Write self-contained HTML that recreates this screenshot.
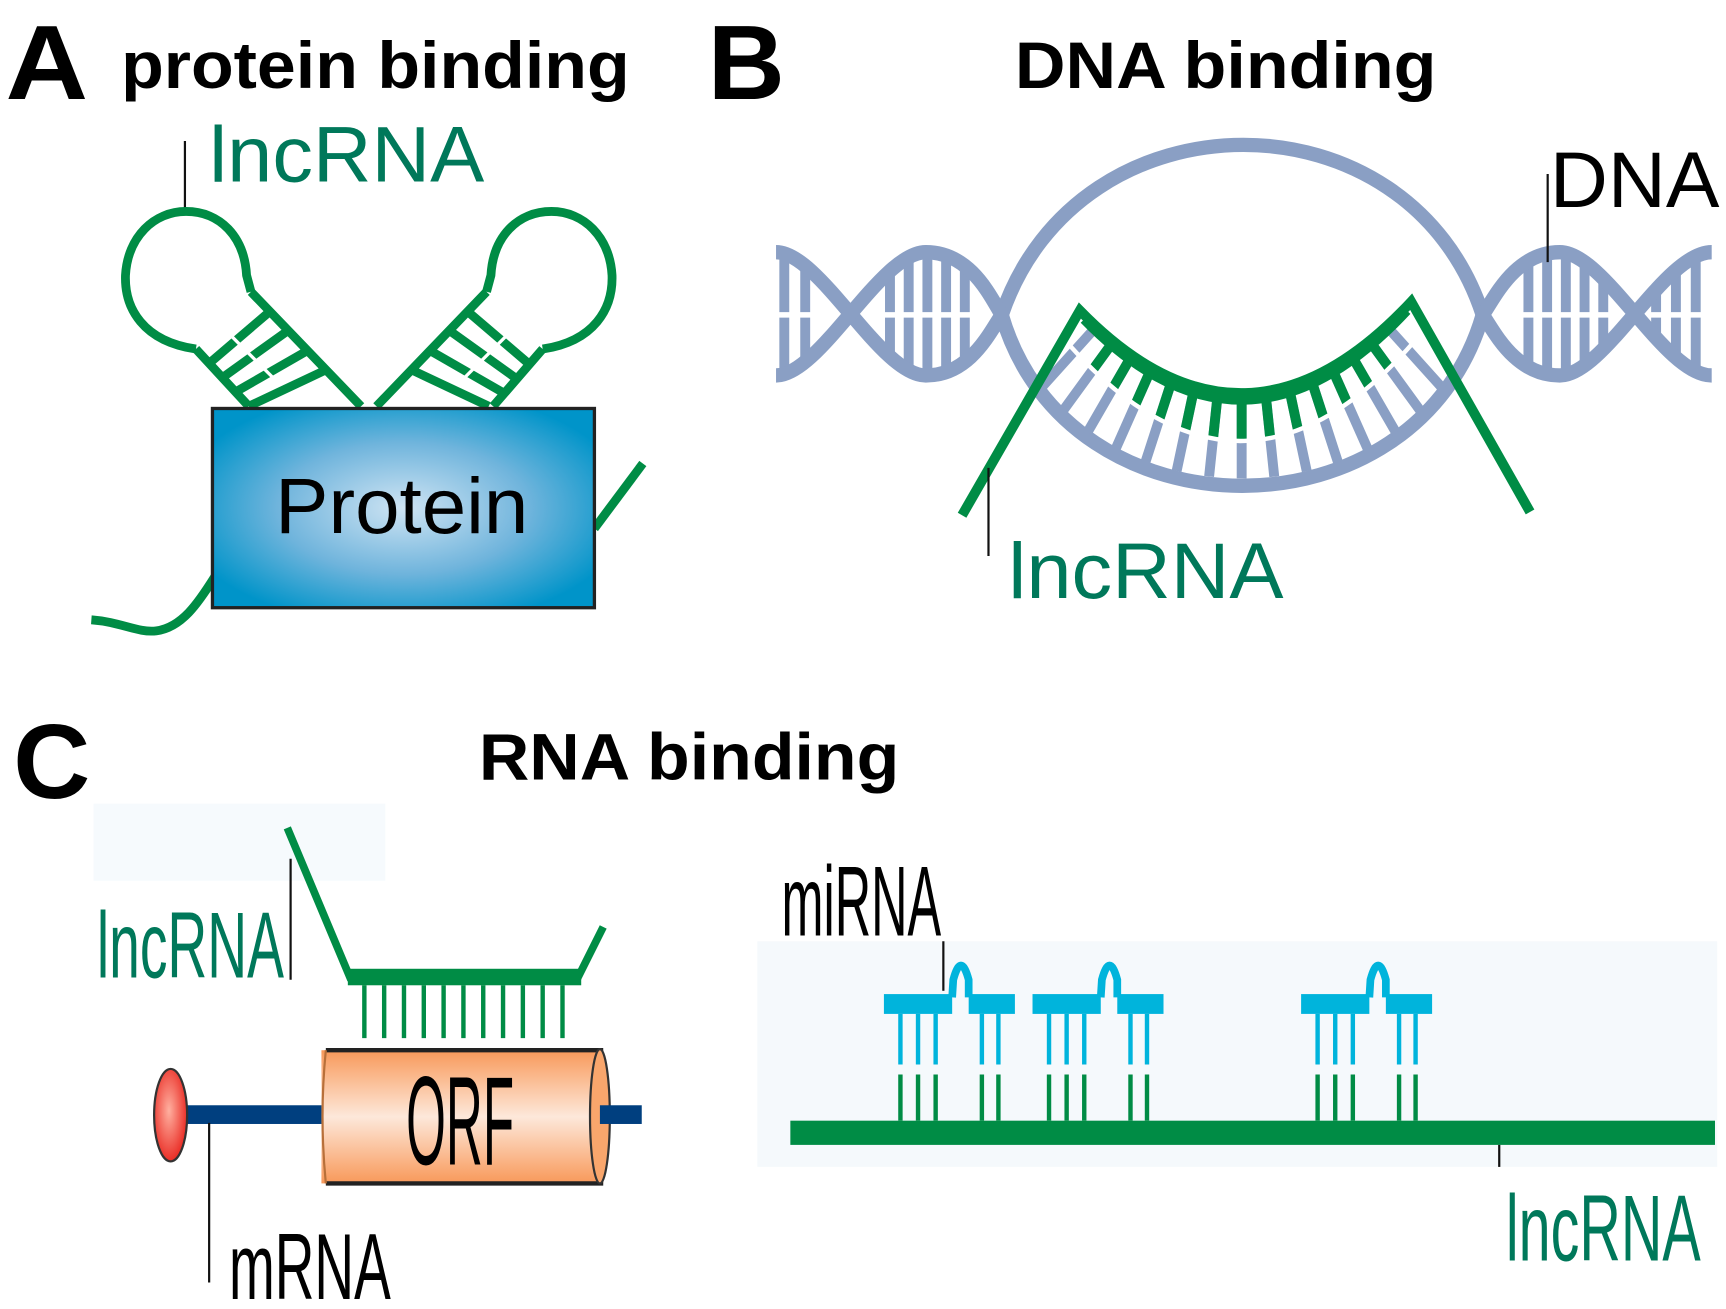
<!DOCTYPE html>
<html><head><meta charset="utf-8"><style>
html,body{margin:0;padding:0;background:#fff;}
svg{display:block;}
text{font-family:"Liberation Sans",Arial,sans-serif;}
</style></head><body>
<svg width="1726" height="1309" viewBox="0 0 1568 1189" xmlns="http://www.w3.org/2000/svg">
<defs>
<radialGradient id="pg" cx="50%" cy="50%" r="60%">
<stop offset="0" stop-color="#cfe4f3"/><stop offset="0.55" stop-color="#6fb4dc"/><stop offset="1" stop-color="#0094c9"/>
</radialGradient>
<linearGradient id="og" x1="0" y1="0" x2="0" y2="1">
<stop offset="0" stop-color="#f8995a"/><stop offset="0.5" stop-color="#fde8da"/><stop offset="1" stop-color="#f8995a"/>
</linearGradient>
<radialGradient id="rg" cx="45%" cy="45%" r="60%">
<stop offset="0" stop-color="#ffb0a0"/><stop offset="1" stop-color="#e8231c"/>
</radialGradient>
<clipPath id="lh"><path d="M705,229 C745,229 800,341 841,341 C882,341 900,300 910,286 C900,270 882,229 841,229 C800,229 745,341 705,341 Z"/></clipPath>
<clipPath id="rh"><path d="M1347,286 C1357,300 1376,341 1417,341 C1458,341 1512,229 1555,229 L1555,341 C1512,341 1458,229 1417,229 C1376,229 1357,272 1347,286 Z"/></clipPath>
<clipPath id="band"><path d="M981,282 Q1131,436 1282,274 L1347,286 C1287,484 970,484 910,286 Z"/></clipPath>
<clipPath id="gband"><path d="M981,282 Q1131,436 1282,274 L1300,292 Q1130,505 960,300 Z"/></clipPath>
</defs>

<!-- Titles -->
<text x="5" y="90" font-size="96" font-weight="bold" textLength="75" lengthAdjust="spacingAndGlyphs">A</text>
<text x="110" y="80" font-size="60" font-weight="bold" textLength="462" lengthAdjust="spacingAndGlyphs">protein binding</text>
<text x="643" y="90" font-size="96" font-weight="bold" textLength="70" lengthAdjust="spacingAndGlyphs">B</text>
<text x="922" y="80" font-size="60" font-weight="bold" textLength="383" lengthAdjust="spacingAndGlyphs">DNA binding</text>
<text x="12" y="725" font-size="96" font-weight="bold" textLength="70" lengthAdjust="spacingAndGlyphs">C</text>
<text x="435" y="708" font-size="60" font-weight="bold" textLength="382" lengthAdjust="spacingAndGlyphs">RNA binding</text>

<!-- Panel A -->
<text x="190" y="165" font-size="72" fill="#00785a" textLength="250" lengthAdjust="spacingAndGlyphs">lncRNA</text>
<line x1="168" y1="128" x2="168" y2="192" stroke="#111" stroke-width="2"/>
<g fill="none" stroke="#008c45" stroke-width="8">
<path d="M83,563 C110,565 125,575 142,573 C165,570 180,548 195,524"/>
<path d="M540,480 L584,421"/>
<path d="M178,317 C130,310 113,280 114,250 C116,215 140,192 169,192 C200,192 222,215 224,250 L228,265"/>
<path d="M228,265 L328,369 M178,317 L226,369"/>
<path d="M493,317 C540,310 557,280 556,250 C554,215 530,192 501,192 C470,192 448,215 446,250 L442,265"/>
<path d="M442,265 L342,369 M493,317 L448,369"/>
</g>
<g stroke="#008c45" stroke-width="8">
<line x1="190" y1="330" x2="245" y2="283"/><line x1="202" y1="343" x2="262" y2="300"/><line x1="214" y1="356" x2="280" y2="318"/><line x1="226" y1="369" x2="296" y2="336"/>
<line x1="480" y1="330" x2="425" y2="283"/><line x1="468" y1="343" x2="408" y2="300"/><line x1="456" y1="356" x2="390" y2="318"/><line x1="444" y1="369" x2="374" y2="336"/>
</g>
<g stroke="#fff" stroke-width="3">
<line x1="205" y1="300" x2="250" y2="345"/><line x1="465" y1="300" x2="420" y2="345"/>
</g>
<rect x="193" y="371" width="347" height="181" fill="url(#pg)" stroke="#222" stroke-width="3"/>
<text x="250" y="484" font-size="72" textLength="230" lengthAdjust="spacingAndGlyphs">Protein</text>

<!-- Panel B -->
<g fill="#8a9fc4">
<g clip-path="url(#lh)">
<rect x="708" y="225" width="9" height="120"/><rect x="727" y="225" width="9" height="120"/>
<rect x="804" y="225" width="9" height="120"/><rect x="821" y="225" width="9" height="120"/><rect x="838" y="225" width="9" height="120"/><rect x="855" y="225" width="9" height="120"/><rect x="872" y="225" width="9" height="120"/>
</g>
<g clip-path="url(#rh)">
<rect x="1384" y="225" width="9" height="120"/><rect x="1401" y="225" width="9" height="120"/><rect x="1418" y="225" width="9" height="120"/><rect x="1435" y="225" width="9" height="120"/><rect x="1452" y="225" width="9" height="120"/>
<rect x="1500" y="225" width="9" height="120"/><rect x="1518" y="225" width="9" height="120"/><rect x="1536" y="225" width="9" height="120"/>
</g>
</g>
<line x1="700" y1="286" x2="1560" y2="286" stroke="#fff" stroke-width="5"/>
<g fill="none" stroke="#8a9fc4" stroke-width="13">
<path d="M705,229 C745,229 800,341 841,341 C882,341 900,300 910,286 C980,80 1280,80 1347,286 C1357,300 1376,341 1417,341 C1458,341 1512,229 1555,229"/>
<path d="M705,341 C745,341 800,229 841,229 C882,229 900,270 910,286 C970,493 1287,493 1347,286 C1357,272 1376,229 1417,229 C1458,229 1512,341 1555,341"/>
</g>
<g stroke-width="9">
<g clip-path="url(#band)" stroke="#8a9fc4">
<line x1="1128" y1="150" x2="1128" y2="650"/>
<line x1="1128" y1="150" x2="1180" y2="647"/><line x1="1128" y1="150" x2="1076" y2="647"/>
<line x1="1128" y1="150" x2="1232" y2="639"/><line x1="1128" y1="150" x2="1024" y2="639"/>
<line x1="1128" y1="150" x2="1282" y2="625"/><line x1="1128" y1="150" x2="974" y2="625"/>
<line x1="1128" y1="150" x2="1331" y2="607"/><line x1="1128" y1="150" x2="925" y2="607"/>
<line x1="1128" y1="150" x2="1378" y2="583"/><line x1="1128" y1="150" x2="878" y2="583"/>
<line x1="1128" y1="150" x2="1422" y2="554"/><line x1="1128" y1="150" x2="834" y2="554"/>
<line x1="1128" y1="150" x2="1463" y2="522"/><line x1="1128" y1="150" x2="793" y2="522"/>
</g>
<g clip-path="url(#gband)" stroke="#008c45">
<line x1="1128" y1="150" x2="1128" y2="650"/>
<line x1="1128" y1="150" x2="1180" y2="647"/><line x1="1128" y1="150" x2="1076" y2="647"/>
<line x1="1128" y1="150" x2="1232" y2="639"/><line x1="1128" y1="150" x2="1024" y2="639"/>
<line x1="1128" y1="150" x2="1282" y2="625"/><line x1="1128" y1="150" x2="974" y2="625"/>
<line x1="1128" y1="150" x2="1331" y2="607"/><line x1="1128" y1="150" x2="925" y2="607"/>
<line x1="1128" y1="150" x2="1378" y2="583"/><line x1="1128" y1="150" x2="878" y2="583"/>
<line x1="1128" y1="150" x2="1422" y2="554"/><line x1="1128" y1="150" x2="834" y2="554"/>
</g>
</g>
<path d="M960,300 Q1130,505 1300,292" fill="none" stroke="#fff" stroke-width="4" clip-path="url(#band)"/>
<path d="M874,468 L981,282 Q1131,436 1282,274 L1390,465" fill="none" stroke="#008c45" stroke-width="9"/>
<path d="M985,290 Q1131,440 1278,282" fill="none" stroke="#008c45" stroke-width="9"/>
<line x1="898" y1="425" x2="898" y2="505" stroke="#111" stroke-width="2"/>
<text x="916" y="543" font-size="72" fill="#00785a" textLength="250" lengthAdjust="spacingAndGlyphs">lncRNA</text>
<line x1="1406" y1="158" x2="1406" y2="238" stroke="#111" stroke-width="2"/>
<text x="1408" y="188" font-size="72" textLength="154" lengthAdjust="spacingAndGlyphs">DNA</text>

<!-- Panel C left -->
<rect x="85" y="730" width="265" height="70" fill="#f6fafd"/>
<text x="88" y="888" font-size="85" fill="#00785a" textLength="170" lengthAdjust="spacingAndGlyphs">lncRNA</text>
<line x1="264" y1="780" x2="264" y2="890" stroke="#111" stroke-width="2"/>
<path d="M261,752 L318,888 L525,888 L548,842" fill="none" stroke="#008c45" stroke-width="7"/>
<rect x="316" y="880" width="212" height="15" fill="#008c45"/>
<g stroke="#008c45" stroke-width="4">
<line x1="331" y1="895" x2="331" y2="943"/><line x1="349" y1="895" x2="349" y2="943"/><line x1="367" y1="895" x2="367" y2="943"/><line x1="385" y1="895" x2="385" y2="943"/><line x1="403" y1="895" x2="403" y2="943"/><line x1="421" y1="895" x2="421" y2="943"/><line x1="439" y1="895" x2="439" y2="943"/><line x1="457" y1="895" x2="457" y2="943"/><line x1="475" y1="895" x2="475" y2="943"/><line x1="493" y1="895" x2="493" y2="943"/><line x1="511" y1="895" x2="511" y2="943"/>
</g>
<rect x="165" y="1004" width="130" height="17" fill="#003f7f"/>
<rect x="292" y="954" width="256" height="121" fill="url(#og)"/>
<line x1="296" y1="954" x2="548" y2="954" stroke="#222" stroke-width="4"/>
<line x1="296" y1="1075" x2="548" y2="1075" stroke="#222" stroke-width="4"/>
<path d="M296,954 Q290,1014 296,1075" fill="none" stroke="#b8703a" stroke-width="2"/>
<ellipse cx="545" cy="1014" rx="9" ry="61" fill="#f9a66c" stroke="#333" stroke-width="2"/>
<rect x="545" y="1004" width="38" height="17" fill="#003f7f"/>
<text x="369" y="1058" font-size="115" textLength="98" lengthAdjust="spacingAndGlyphs">ORF</text>
<ellipse cx="155" cy="1013" rx="15" ry="42" fill="url(#rg)" stroke="#333" stroke-width="2"/>
<line x1="190" y1="1020" x2="190" y2="1165" stroke="#111" stroke-width="2"/>
<text x="208" y="1180" font-size="85" textLength="147" lengthAdjust="spacingAndGlyphs">mRNA</text>

<!-- Panel C right -->
<rect x="688" y="855" width="872" height="205" fill="#f5f9fc"/>
<text x="710" y="850" font-size="90" textLength="145" lengthAdjust="spacingAndGlyphs">miRNA</text>
<line x1="857" y1="855" x2="857" y2="900" stroke="#111" stroke-width="2"/>
<rect x="718" y="1018" width="840" height="22" fill="#008c45"/>
<line x1="1362" y1="1040" x2="1362" y2="1060" stroke="#111" stroke-width="2"/>
<text x="1368" y="1145" font-size="85" fill="#00785a" textLength="177" lengthAdjust="spacingAndGlyphs">lncRNA</text>
<g id="mi">
<rect x="803" y="903" width="62" height="18" fill="#00b4dc"/>
<rect x="880" y="903" width="42" height="18" fill="#00b4dc"/>
<path d="M865,906 L866,890 Q873,864 880,890 L880,906" fill="none" stroke="#00b4dc" stroke-width="7"/>
<g stroke="#00b4dc" stroke-width="4">
<line x1="818" y1="921" x2="818" y2="967"/><line x1="834" y1="921" x2="834" y2="967"/><line x1="850" y1="921" x2="850" y2="967"/><line x1="892" y1="921" x2="892" y2="967"/><line x1="907" y1="921" x2="907" y2="967"/>
</g>
<g stroke="#008c45" stroke-width="4">
<line x1="818" y1="976" x2="818" y2="1018"/><line x1="834" y1="976" x2="834" y2="1018"/><line x1="850" y1="976" x2="850" y2="1018"/><line x1="892" y1="976" x2="892" y2="1018"/><line x1="907" y1="976" x2="907" y2="1018"/>
</g>
</g>
<use href="#mi" x="135"/>
<use href="#mi" x="379"/>
</svg>
</body></html>
